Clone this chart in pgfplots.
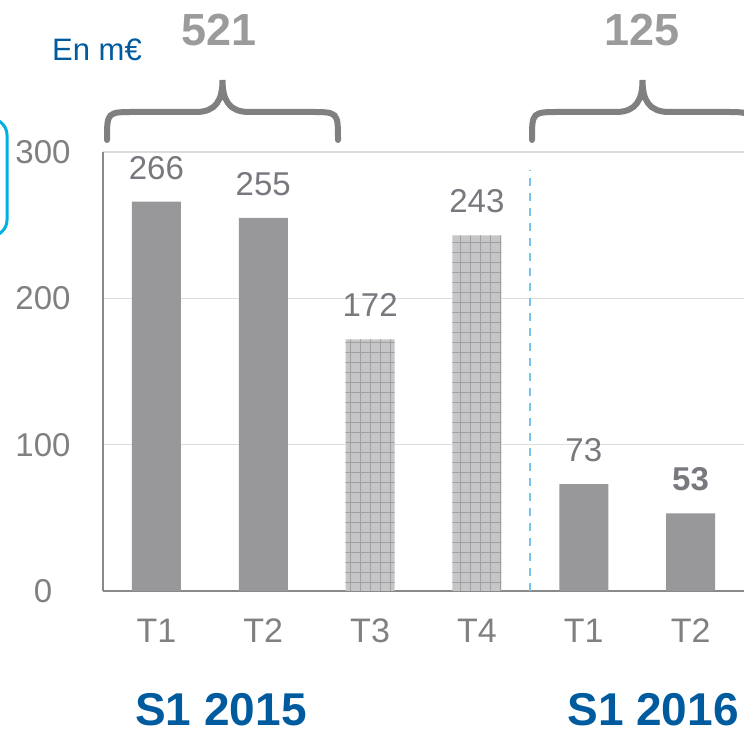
\documentclass[border=0pt]{standalone}
\usepackage{fontspec}
\setmainfont{Liberation Sans}
\usepackage{pgfplots}
\usepackage{pgfplotstable}
\pgfplotsset{compat=1.18}
\usetikzlibrary{patterns.meta}
\definecolor{barg}{RGB}{152,152,155}
\definecolor{patbg}{RGB}{198,198,200}
\definecolor{patln}{RGB}{160,160,163}
\definecolor{labg}{RGB}{120,120,126}
\definecolor{tickg}{RGB}{128,128,128}
\definecolor{axg}{RGB}{137,137,137}
\definecolor{gridg}{RGB}{220,220,220}
\definecolor{bluet}{RGB}{0,90,158}
\definecolor{cyanb}{RGB}{0,176,222}
\definecolor{dashb}{RGB}{120,195,235}
\definecolor{bracg}{RGB}{128,128,128}
\definecolor{bigg}{RGB}{155,155,155}

\pgfplotstableread{
x y lab
0 266 266
1 255 255
4 73 73
5 53 {\textbf{53}}
}\solid
\pgfplotstableread{
x y lab
2 172 172
3 243 243
}\hatched

\begin{document}
\begin{tikzpicture}
\path[use as bounding box] (0,0) rectangle (372pt,366.5pt);
\begin{axis}[
  at={(51.5pt,71pt)}, anchor=south west,
  scale only axis, width=320.5pt, height=219.5pt,
  xmin=-0.5, xmax=5.5, ymin=0, ymax=300,
  axis x line=bottom, axis y line=left,
  axis line style={-, axg, line width=1pt},
  ytick={0,100,200,300}, ymajorgrids,
  grid style={gridg, line width=0.75pt},
  xtick={0,1,2,3,4,5}, xticklabels={T1,T2,T3,T4,T1,T2},
  major tick length=0pt,
  /pgf/number format/assume math mode=true,
  yticklabel style={anchor=center, xshift=-30pt, text=tickg, font=\fontsize{16.5}{18}\selectfont},
  xticklabel style={anchor=center, yshift=-20pt, text=tickg, font=\fontsize{17}{19}\selectfont},
  ybar, bar width=24.5pt, bar shift=0pt,
  nodes near coords, point meta=explicit symbolic,
  nodes near coords style={font=\fontsize{16.5}{18}\selectfont, text=labg, anchor=south, inner sep=0pt, yshift=11pt},
  clip=false,
]
\addplot[fill=barg, draw=none] table[x=x, y=y, meta=lab] {\solid};
\addplot[fill=patbg, draw=none,
  postaction={pattern={Lines[angle=0,distance=5pt,line width=0.5pt]}, pattern color=patln},
  postaction={pattern={Lines[angle=90,distance=5pt,line width=0.5pt]}, pattern color=patln}]
  table[x=x, y=y, meta=lab] {\hatched};
\draw[dashb, line width=0.9pt, dash pattern=on 4pt off 3.5pt] (axis cs:3.5,0) -- (axis cs:3.5,288);
\end{axis}
\begin{scope}[x=0.5pt, y=-0.5pt, shift={(0,366.5pt)}]
  \node[text=bluet, font=\fontsize{15.5}{18}\selectfont] at (97,50) {En m€};
  \node[text=bigg, font=\bfseries\fontsize{22.5}{26}\selectfont] at (219,30) {521};
  \node[text=bigg, font=\bfseries\fontsize{22.5}{26}\selectfont] at (642,30) {125};
  \node[inner sep=0pt, text=bluet, font=\bfseries\fontsize{23}{28}\selectfont] at (221,710) {S1 2015};
  \node[inner sep=0pt, text=bluet, font=\bfseries\fontsize{23}{28}\selectfont] at (653,710) {S1 2016};
  \draw[bracg, line width=3pt, line cap=round]
    (107,140) .. controls (107,112) .. (135,112) -- (196,112)
    .. controls (216,112) and (222.5,100) .. (222.5,80)
    .. controls (222.5,100) and (229,112) .. (249,112) -- (310,112)
    .. controls (338,112) .. (338,140);
  \draw[bracg, line width=3pt, line cap=round]
    (532,140) .. controls (532,112) .. (560,112) -- (616,112)
    .. controls (636,112) and (642.5,100) .. (642.5,80)
    .. controls (642.5,100) and (649,112) .. (669,112) -- (725,112)
    .. controls (753,112) .. (753,140);
  \draw[cyanb, line width=1.5pt, rounded corners=8pt] (-60,119) rectangle (7,236);
\end{scope}
\end{tikzpicture}
\end{document}
